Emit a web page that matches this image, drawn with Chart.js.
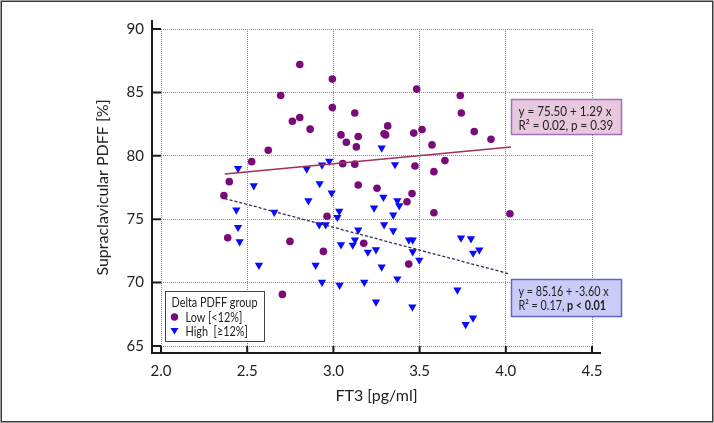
<!DOCTYPE html>
<html>
<head>
<meta charset="utf-8">
<script src="https://cdn.jsdelivr.net/npm/chart.js@4.4.0/dist/chart.umd.min.js"></script>
<style>
  body { margin: 0; background: #fff; }
  #wrap { width: 714px; height: 423px; }
</style>
</head>
<body>
<div id="wrap"><canvas id="chart" width="714" height="423"></canvas></div>
<script>
// Low delta PDFF group (circles)
const lowX = [2.805, 2.994, 2.694, 2.994, 3.124, 2.762, 2.805, 2.865, 3.044, 3.075,
  3.144, 3.133, 2.622, 2.526, 3.054, 3.124, 2.396, 3.144, 3.253, 3.483,
  3.736, 3.742, 3.315, 3.294, 3.303, 3.466, 3.514, 3.817, 3.914, 3.572,
  3.473, 3.583, 3.647, 2.365, 2.387, 2.748, 2.963, 2.942, 2.704, 3.176,
  3.456, 3.427, 3.583, 4.024, 3.437];
const lowY = [87.2, 86.05, 84.76, 83.8, 83.37, 82.73, 83.02, 82.1, 81.65, 81.07,
  81.52, 80.7, 80.44, 79.54, 79.38, 79.34, 77.96, 77.7, 77.44, 85.26,
  84.76, 83.37, 82.36, 81.73, 81.65, 81.79, 82.07, 81.91, 81.31, 80.86,
  79.2, 78.75, 79.62, 76.86, 73.54, 73.25, 75.23, 72.46, 69.07, 73.1,
  77.02, 76.38, 75.51, 75.43, 71.46];

// High delta PDFF group (triangles)
const highX = [2.447, 2.538, 2.845, 2.934, 2.976, 2.92, 3.28, 3.357, 2.99, 2.855,
  2.437, 2.657, 3.034, 3.023, 2.918, 2.955, 2.447, 3.144, 2.456, 3.125,
  3.112, 3.044, 3.2, 3.247, 3.236, 2.568, 2.897, 2.934, 3.036, 3.179,
  3.247, 3.29, 3.371, 3.382, 3.347, 3.294, 3.347, 3.438, 3.46, 3.46,
  3.498, 3.28, 3.371, 3.458, 3.74, 3.798, 3.81, 3.846, 3.719, 3.767, 3.81];
const highY = [79.0, 77.65, 78.97, 79.28, 79.57, 77.81, 80.62, 79.31, 77.08, 76.46,
  75.73, 75.55, 75.63, 75.15, 74.57, 74.57, 74.36, 74.15, 73.22, 73.36,
  72.96, 72.99, 72.41, 72.59, 75.89, 71.38, 71.38, 70.04, 69.8, 70.04,
  68.48, 76.73, 76.46, 76.07, 75.33, 74.57, 74.09, 73.36, 73.36, 72.44,
  71.78, 71.23, 70.3, 68.08, 73.52, 73.46, 72.33, 72.57, 69.43, 66.7, 67.22];

// fitted lines, end points
const lowFitX = [2.37, 4.03];
const lowFitY = [78.56, 80.70];
const highFitX = [2.37, 4.02];
const highFitY = [76.63, 70.69];

const xTicks = [2.0, 2.5, 3.0, 3.5, 4.0, 4.5];
const yTicks = [65, 70, 75, 80, 85, 90];

const lowFitText = ['y = 75.50 + 1.29 x', 'R\u00b2 = 0.02, p = 0.39'];
const highFitText = ['y = 85.16 + -3.60 x', 'R\u00b2 = 0.17, ', 'p < 0.01'];
const legendTitle = 'Delta PDFF group';
const groupNames = ['Low [<12%]', 'High  [\u226512%]'];

const LOW_COLOR = '#7a0a78';
const HIGH_COLOR = '#0a0aff';
const FONT = 'Lato';

const toPts = (xs, ys) => xs.map((v, i) => ({ x: v, y: ys[i] }));

// text squeezed a bit so Lato takes the room of the narrower original font
const squeezeText = (ctx, text, x, y, k) => {
  const w = ctx.measureText(text).width;
  ctx.fillText(text, x, y, w * k);
  return w * k;
};

const decor = {
  id: 'decor',
  afterDraw(chart) {
    const { ctx, chartArea: a, scales: { x, y } } = chart;
    ctx.save();

    // outer frame
    ctx.strokeStyle = '#3a3a3a';
    ctx.lineWidth = 1.5;
    ctx.strokeRect(1.25, 1.25, chart.width - 2.5, chart.height - 2.5);

    // offset axes with inward ticks
    const ax = a.left - 9, ay = a.bottom + 7;
    ctx.strokeStyle = '#1a1a1a';
    ctx.lineWidth = 2;
    ctx.beginPath();
    ctx.moveTo(ax, a.top - 9);
    ctx.lineTo(ax, ay);
    ctx.lineTo(a.right + 9, ay);
    yTicks.forEach(v => {
      const py = y.getPixelForValue(v);
      ctx.moveTo(ax, py); ctx.lineTo(a.left, py);
    });
    xTicks.forEach(v => {
      const px = x.getPixelForValue(v);
      ctx.moveTo(px, ay); ctx.lineTo(px, a.bottom);
    });
    ctx.stroke();

    // legend box
    const lx = a.left + 4.5, lw = 99, lh = 50, ly = a.bottom - 4.5 - lh;
    ctx.fillStyle = '#fff';
    ctx.fillRect(lx, ly, lw, lh);
    ctx.strokeStyle = '#444';
    ctx.lineWidth = 1;
    ctx.strokeRect(lx, ly, lw, lh);
    ctx.font = '14px ' + FONT;
    ctx.textBaseline = 'middle';
    ctx.fillStyle = '#222';
    const lk = 86 / ctx.measureText(legendTitle).width;
    squeezeText(ctx, legendTitle, lx + 6, ly + 11, lk);
    squeezeText(ctx, groupNames[0], lx + 20, ly + 25.5, lk);
    squeezeText(ctx, groupNames[1], lx + 20, ly + 39.5, lk);
    ctx.fillStyle = LOW_COLOR;
    ctx.beginPath();
    ctx.arc(lx + 9, ly + 25.5, 3.7, 0, Math.PI * 2);
    ctx.fill();
    ctx.fillStyle = HIGH_COLOR;
    ctx.beginPath();
    ctx.moveTo(lx + 5, ly + 36.5);
    ctx.lineTo(lx + 13, ly + 36.5);
    ctx.lineTo(lx + 9, ly + 43);
    ctx.closePath();
    ctx.fill();

    // regression boxes
    const box = (left, top, w, h, fill, stroke, lines, firstW) => {
      ctx.fillStyle = fill;
      ctx.fillRect(left, top, w, h);
      ctx.strokeStyle = stroke;
      ctx.lineWidth = 1.5;
      ctx.strokeRect(left, top, w, h);
      ctx.fillStyle = '#222';
      ctx.font = '14px ' + FONT;
      const k = firstW / ctx.measureText(lines[0]).width;
      squeezeText(ctx, lines[0], left + 7, top + 12, k);
      const w1 = squeezeText(ctx, lines[1], left + 7, top + 25.5, k);
      if (lines[2]) {
        ctx.font = 'bold 14px ' + FONT;
        squeezeText(ctx, lines[2], left + 7 + w1, top + 25.5, k);
      }
    };
    const bx = Math.round(x.getPixelForValue(4.03)) + 0.5;
    box(bx, Math.round(y.getPixelForValue(84.45)) + 0.5, 110, 35, '#e7c8dc', '#a070b8', lowFitText, 93);
    box(bx, Math.round(y.getPixelForValue(70.25)) + 0.5, 110, 37, '#cbcbf7', '#6363d0', highFitText, 90);

    ctx.restore();
  }
};

const tickFont = { family: FONT, size: 15 };
const titleFont = { family: FONT, size: 16 };

new Chart(document.getElementById('chart'), {
  type: 'scatter',
  data: {
    datasets: [
      {
        label: 'Low fit',
        type: 'line',
        data: toPts(lowFitX, lowFitY),
        borderColor: '#9e2f5e',
        borderWidth: 1.5,
        pointRadius: 0,
        fill: false,
        order: 0
      },
      {
        label: 'High fit',
        type: 'line',
        data: toPts(highFitX, highFitY),
        borderColor: '#2e2e5e',
        borderWidth: 1.3,
        borderDash: [3, 2],
        pointRadius: 0,
        fill: false,
        order: 1
      },
      {
        label: groupNames[0],
        data: toPts(lowX, lowY),
        pointStyle: 'circle',
        pointRadius: 3.8,
        backgroundColor: LOW_COLOR,
        borderColor: LOW_COLOR,
        borderWidth: 0,
        order: 2
      },
      {
        label: groupNames[1],
        data: toPts(highX, highY),
        pointStyle: 'triangle',
        rotation: 180,
        pointRadius: 4.8,
        backgroundColor: HIGH_COLOR,
        borderColor: HIGH_COLOR,
        borderWidth: 0,
        order: 3
      }
    ]
  },
  options: {
    responsive: false,
    animation: false,
    layout: { padding: { left: 0, top: 29, right: 122, bottom: 0 } },
    plugins: {
      legend: { display: false },
      tooltip: { enabled: false }
    },
    scales: {
      x: {
        type: 'linear',
        min: 2.0,
        max: 4.5,
        afterBuildTicks: (s) => { s.ticks = xTicks.map(v => ({ value: v })); },
        afterFit: (s) => { s.height = 77; },
        grid: { color: '#8a8a8a', lineWidth: 1, drawTicks: false },
        border: { display: false, dash: [1, 1] },
        ticks: { color: '#222', font: tickFont, padding: 16, callback: (v) => Number(v).toFixed(1) },
        title: { display: true, text: 'FT3 [pg/ml]', color: '#222', font: titleFont, padding: { top: 0, bottom: 18 } }
      },
      y: {
        type: 'linear',
        min: 65,
        max: 90,
        afterBuildTicks: (s) => { s.ticks = yTicks.map(v => ({ value: v })); },
        afterFit: (s) => { s.width = 161; },
        grid: { color: '#8a8a8a', lineWidth: 1, drawTicks: false },
        border: { display: false, dash: [1, 1] },
        ticks: { color: '#222', font: tickFont, padding: 17 },
        title: { display: true, text: 'Supraclavicular PDFF [%]', color: '#222', font: titleFont, padding: { top: 93, bottom: 0 } }
      }
    }
  },
  plugins: [decor]
});
</script>
</body>
</html>
